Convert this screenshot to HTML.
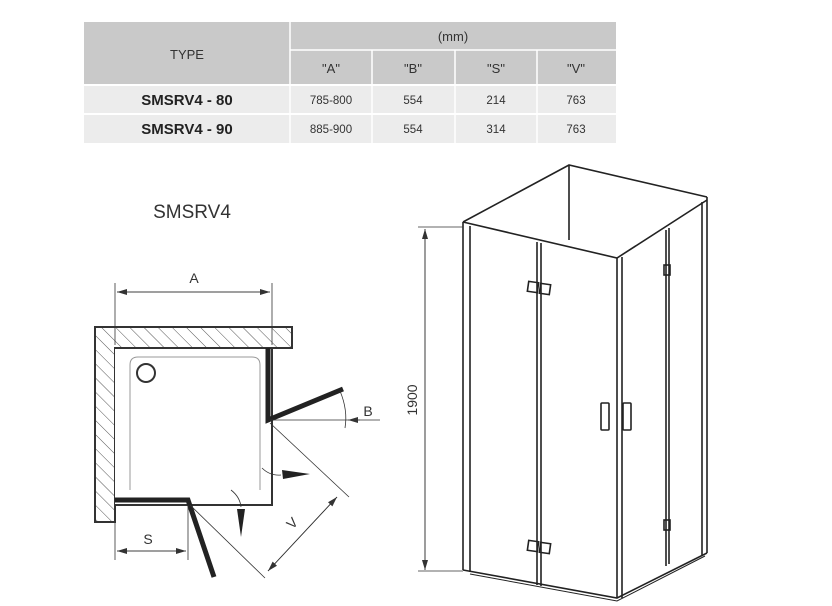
<!DOCTYPE html>
<html><head><meta charset="utf-8"><style>
html,body{margin:0;padding:0;background:#fff;width:832px;height:606px;overflow:hidden}
svg{display:block}
</style></head><body>
<svg width="832" height="606" viewBox="0 0 832 606" xmlns="http://www.w3.org/2000/svg" font-family="Liberation Sans, sans-serif">
<defs>
<pattern id="h" patternUnits="userSpaceOnUse" width="10" height="10" patternTransform="rotate(-45)">
<line x1="0" y1="0" x2="0" y2="10" stroke="#555" stroke-width="1"/>
</pattern>
<marker id="ar" markerWidth="10" markerHeight="6" refX="10" refY="3" orient="auto" markerUnits="userSpaceOnUse"><path d="M0,0 L10,3 L0,6 z" fill="#333"/></marker>
</defs>
<!-- table -->
<rect x="84" y="22" width="532" height="63" fill="#c9c9c9"/>
<rect x="84" y="85" width="532" height="58" fill="#ececec"/>
<line x1="84" y1="85" x2="616" y2="85" stroke="#fff" stroke-width="2"/>
<line x1="84" y1="114" x2="616" y2="114" stroke="#fff" stroke-width="2"/>
<line x1="290" y1="50" x2="616" y2="50" stroke="#fff" stroke-width="1.5"/>
<g stroke="#fff" stroke-width="1.5">
<line x1="290" y1="22" x2="290" y2="143"/>
<line x1="372" y1="50" x2="372" y2="143"/>
<line x1="455" y1="50" x2="455" y2="143"/>
<line x1="537" y1="50" x2="537" y2="143"/>
</g>
<g font-size="13" fill="#333" text-anchor="middle">
<text x="187" y="59">TYPE</text>
<text x="453" y="41">(mm)</text>
<text x="331" y="73">"A"</text>
<text x="413" y="73">"B"</text>
<text x="496" y="73">"S"</text>
<text x="576" y="73">"V"</text>
</g>
<g font-size="15" font-weight="bold" fill="#222" text-anchor="middle">
<text x="187" y="105">SMSRV4 - 80</text>
<text x="187" y="134">SMSRV4 - 90</text>
</g>
<g font-size="11.5" fill="#333" text-anchor="middle">
<text x="331" y="104">785-800</text><text x="413" y="104">554</text><text x="496" y="104">214</text><text x="576" y="104">763</text>
<text x="331" y="133">885-900</text><text x="413" y="133">554</text><text x="496" y="133">314</text><text x="576" y="133">763</text>
</g>
<text x="192" y="218" font-size="19" fill="#333" text-anchor="middle">SMSRV4</text>
<!-- plan view -->
<g stroke="#333" fill="none">
<path d="M95,327 H292 V348 H115 V522 H95 Z" fill="url(#h)" stroke-width="2"/>
<path d="M115,348 H272 V505 H115" stroke-width="2" fill="#fff"/>
<path d="M130,490 V365 Q130,357 138,357 H252 Q260,357 260,365 V490" stroke="#999" stroke-width="1"/>
<circle cx="146" cy="373" r="9" stroke-width="2"/>
<line x1="115" y1="283" x2="115" y2="345" stroke-width="0.8"/>
<line x1="272" y1="283" x2="272" y2="345" stroke-width="0.8"/>
<line x1="117" y1="292" x2="270" y2="292" stroke-width="0.8" marker-end="url(#ar)"/>
<line x1="270" y1="292" x2="117" y2="292" stroke-width="0.8" marker-end="url(#ar)"/>
<path d="M268,348 V420 L343,389" stroke="#222" stroke-width="5"/>
<path d="M115,500 H188 L214,577" stroke="#222" stroke-width="5"/>
<line x1="270" y1="420" x2="380" y2="420" stroke-width="0.8"/>
<path d="M340,391 Q348,410 345,428" stroke-width="0.8"/>
<line x1="360" y1="420" x2="348" y2="420" stroke-width="0.8" marker-end="url(#ar)"/>
<line x1="270" y1="423" x2="349" y2="497" stroke-width="0.8"/>
<line x1="190" y1="505" x2="265" y2="578" stroke-width="0.8"/>
<line x1="337" y1="497" x2="268" y2="571" stroke-width="0.8" marker-end="url(#ar)"/>
<line x1="268" y1="571" x2="337" y2="497" stroke-width="0.8" marker-end="url(#ar)"/>
<line x1="115" y1="505" x2="115" y2="560" stroke-width="0.8"/>
<line x1="188" y1="505" x2="188" y2="560" stroke-width="0.8"/>
<line x1="117" y1="551" x2="186" y2="551" stroke-width="0.8" marker-end="url(#ar)"/>
<line x1="186" y1="551" x2="117" y2="551" stroke-width="0.8" marker-end="url(#ar)"/>
<path d="M262,468 Q270,476 281,475" stroke-width="0.8"/>
<path d="M231,490 Q240,497 241,507" stroke-width="0.8"/>
</g>
<path d="M282,470 L310,474 L283,479 z" fill="#222"/>
<path d="M237,509 L241,537 L245,509 z" fill="#222"/>
<g font-size="14" fill="#333" text-anchor="middle">
<text x="194" y="283">A</text>
<text x="368" y="416">B</text>
<text x="148" y="544">S</text>
<text x="292" y="528" transform="rotate(-45 292 523)">V</text>
</g>
<!-- 3D view -->
<g stroke="#222" fill="none" stroke-width="1.6">
<path d="M463,222 L569,165 L707,197"/>
<line x1="569" y1="165" x2="569" y2="240"/>
<path d="M463,222 L617,258 L707,200"/>
<line x1="463" y1="222" x2="463" y2="570"/>
<line x1="470" y1="226" x2="470" y2="572"/>
<line x1="617" y1="258" x2="617" y2="598"/>
<line x1="622" y1="257" x2="622" y2="598"/>
<line x1="707" y1="197" x2="707" y2="553"/>
<line x1="702" y1="202" x2="702" y2="555"/>
<line x1="537" y1="242" x2="537" y2="585"/>
<line x1="541" y1="243" x2="541" y2="586"/>
<line x1="666" y1="230" x2="666" y2="566"/>
<line x1="669" y1="228" x2="669" y2="564"/>
<path d="M463,570 L617,598 L707,553"/>
<path d="M470,574 L617,601 L705,556" stroke-width="1"/>
<rect x="528" y="282" width="10" height="10" transform="rotate(8 533 287)"/>
<rect x="540" y="284" width="10" height="10" transform="rotate(8 545 289)"/>
<rect x="528" y="541" width="10" height="10" transform="rotate(8 533 546)"/>
<rect x="540" y="543" width="10" height="10" transform="rotate(8 545 548)"/>
<rect x="664" y="265" width="6" height="10"/>
<rect x="664" y="520" width="6" height="10"/>
<rect x="601" y="403" width="8" height="27" rx="1"/>
<rect x="623" y="403" width="8" height="27" rx="1"/>
</g>
<g stroke="#333" stroke-width="0.8">
<line x1="418" y1="227" x2="463" y2="227"/>
<line x1="418" y1="571" x2="463" y2="571"/>
<line x1="425" y1="570" x2="425" y2="229" marker-end="url(#ar)"/>
<line x1="425" y1="229" x2="425" y2="570" marker-end="url(#ar)"/>
</g>
<text x="417" y="400" font-size="14" fill="#333" text-anchor="middle" transform="rotate(-90 417 400)">1900</text>
</svg>
</body></html>
